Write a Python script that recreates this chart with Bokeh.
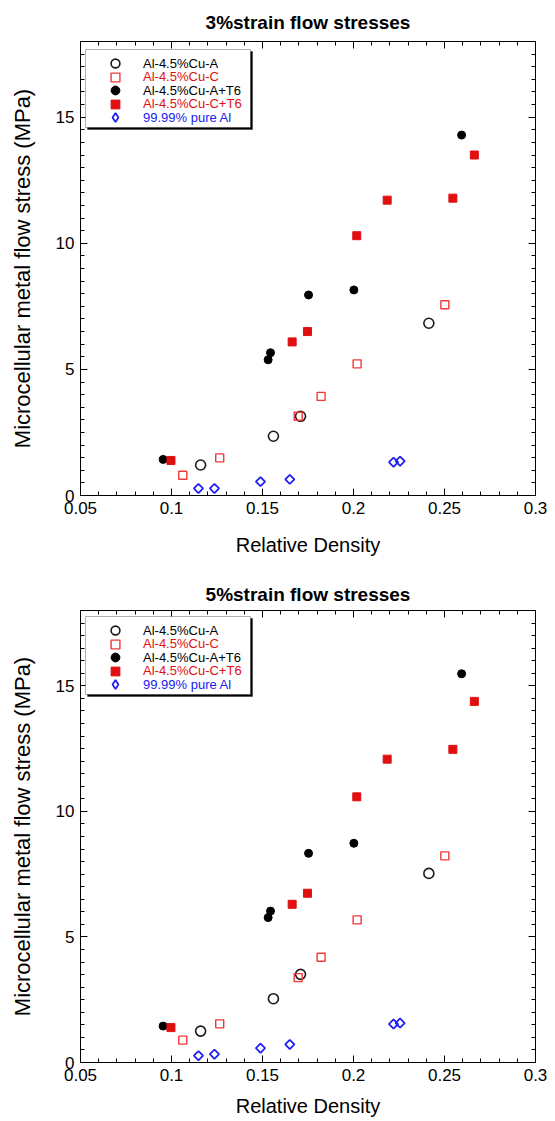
import math
from bokeh.plotting import figure
from bokeh.models import (Range1d, LinearAxis, SingleIntervalTicker, CustomJSTickFormatter,
                          Legend, LegendItem, Label, BoxAnnotation)
from bokeh.layouts import column
from bokeh.embed import file_html
from bokeh.resources import INLINE

# ---------------- data ----------------
labels = ["Al-4.5%Cu-A", "Al-4.5%Cu-C", "Al-4.5%Cu-A+T6", "Al-4.5%Cu-C+T6", "99.99% pure Al"]

dens_A = [0.116, 0.156, 0.1709, 0.2414]
dens_C = [0.1062, 0.1265, 0.1696, 0.1822, 0.202, 0.2502]
dens_AT6 = [0.0954, 0.1531, 0.1544, 0.1753, 0.2002, 0.2594]
dens_CT6 = [0.0997, 0.1663, 0.1747, 0.2018, 0.2185, 0.2546, 0.2664]
dens_Al = [0.1148, 0.1236, 0.1489, 0.165, 0.222, 0.2256]

# 3% strain flow stresses (MPa)
s3_A = [1.21, 2.35, 3.14, 6.83]
s3_C = [0.80, 1.49, 3.14, 3.93, 5.22, 7.56]
s3_AT6 = [1.43, 5.38, 5.66, 7.95, 8.15, 14.29]
s3_CT6 = [1.39, 6.09, 6.50, 10.30, 11.71, 11.79, 13.50]
s3_Al = [0.28, 0.28, 0.55, 0.64, 1.32, 1.36]

# 5% strain flow stresses (MPa)
s5_A = [1.25, 2.54, 3.51, 7.53]
s5_C = [0.89, 1.54, 3.38, 4.19, 5.68, 8.23]
s5_AT6 = [1.45, 5.77, 6.03, 8.33, 8.73, 15.48]
s5_CT6 = [1.39, 6.30, 6.74, 10.58, 12.08, 12.47, 14.38]
s5_Al = [0.27, 0.33, 0.57, 0.72, 1.53, 1.57]

x_tick_interval = 0.05
y_tick_interval = 5

FONT = "Liberation Sans"
RED = "#e01010"
RED_OPEN = "#f23838"
BLUE = "#2020f2"
TEXT_COLORS = ["black", RED, "black", RED, BLUE]

fmt = CustomJSTickFormatter(code="return String(Number(tick.toFixed(2)));")
blank_fmt = CustomJSTickFormatter(code="return '';")


def make_panel(tag, title, ys, height, top_b, bottom_b, xlab_standoff, title_standoff):
    p = figure(width=553, height=height, output_backend="svg", toolbar_location=None,
               x_range=Range1d(0.05, 0.3000001), y_range=Range1d(0, 18.00001),
               min_border_left=80, min_border_right=18,
               min_border_top=top_b, min_border_bottom=bottom_b,
               x_axis_label="Relative Density",
               y_axis_label="Microcellular metal flow stress (MPa)")
    H = height - top_b - bottom_b
    p.grid.visible = False
    p.outline_line_color = "black"
    p.outline_line_width = 1
    p.background_fill_color = "white"
    p.border_fill_color = "white"

    p.title.text = title
    p.title.align = "center"
    p.title.text_font = FONT
    p.title.text_font_size = "19px"
    p.title.text_font_style = "bold"
    p.title.text_color = "black"
    p.title.standoff = title_standoff

    xt = SingleIntervalTicker(interval=x_tick_interval, num_minor_ticks=5)
    yt = SingleIntervalTicker(interval=y_tick_interval, num_minor_ticks=10)

    for ax, t in ((p.xaxis[0], xt), (p.yaxis[0], yt)):
        ax.ticker = t
        ax.formatter = fmt
        ax.major_tick_in = 7
        ax.major_tick_out = 0
        ax.minor_tick_in = 4
        ax.minor_tick_out = 0
        ax.major_label_standoff = 6
        ax.major_label_text_font = FONT
        ax.major_label_text_font_size = "17px"
        ax.major_label_text_color = "black"
        ax.axis_label_text_font = FONT
        ax.axis_label_text_font_style = "normal"
        ax.axis_label_text_color = "black"
        ax.axis_line_color = "black"
        ax.major_tick_line_color = "black"
        ax.minor_tick_line_color = "black"
    p.xaxis[0].axis_label_text_font_size = "20px"
    p.xaxis[0].axis_label_standoff = xlab_standoff
    p.yaxis[0].axis_label_text_font_size = "22px"
    p.yaxis[0].axis_label_standoff = 18

    for loc, t in (("above", xt), ("right", yt)):
        ax = LinearAxis(ticker=t, formatter=blank_fmt, major_label_text_font_size="1px",
                        major_label_standoff=0,
                        major_tick_in=7, major_tick_out=0, minor_tick_in=4, minor_tick_out=0,
                        axis_line_color="black", major_tick_line_color="black",
                        minor_tick_line_color="black")
        p.add_layout(ax, loc)

    sA, sC, sAT6, sCT6, sAl = ys
    rA = p.scatter(dens_A, sA, marker="circle", size=10, fill_color=None,
                   line_color="#1a1a1a", line_width=1.6)
    rC = p.scatter(dens_C, sC, marker="square", size=8, fill_color=None,
                   line_color=RED_OPEN, line_width=1.4)
    rAT6 = p.scatter(dens_AT6, sAT6, marker="circle", size=8, fill_color="black",
                     line_color="black")
    rCT6 = p.scatter(dens_CT6, sCT6, marker="square", size=8, fill_color=RED,
                     line_color=RED)
    p.scatter(dens_Al, sAl, marker="square", angle=math.pi / 4, size=6.5,
              fill_color=None, line_color=BLUE, line_width=1.8)
    # legend-only glyph for the pure-Al symbol (no point drawn in the frame)
    rAl_key = p.scatter([float("nan")], [float("nan")], marker="diamond", size=9,
                        fill_color=None, line_color=BLUE, line_width=1.8)

    # legend box with drop shadow (frame-relative screen units)
    bx0, bx1, by0, by1 = 5, 170, 9, 87
    shadow = BoxAnnotation(left=bx0 + 2, right=bx1 + 2, top=H - by0 - 2, bottom=H - by1 - 2,
                           left_units="screen", right_units="screen",
                           top_units="screen", bottom_units="screen",
                           fill_color="black", fill_alpha=1, line_color="black", line_width=1)
    box = BoxAnnotation(left=bx0, right=bx1, top=H - by0, bottom=H - by1,
                        left_units="screen", right_units="screen",
                        top_units="screen", bottom_units="screen",
                        fill_color="white", fill_alpha=1, line_color="black", line_width=1)
    p.add_layout(shadow)
    p.add_layout(box)

    rends = [rA, rC, rAT6, rCT6, rAl_key]
    row0, dy = 23, 13.5
    gh = 22
    for i, (lab, r, col) in enumerate(zip(labels, rends, TEXT_COLORS)):
        yc = row0 + i * dy
        lg = Legend(items=[LegendItem(label=lab, renderers=[r])],
                    location=(24, H - yc - gh / 2),
                    padding=0, margin=0, spacing=0,
                    border_line_color=None, background_fill_alpha=0,
                    glyph_width=gh, glyph_height=gh, label_height=13,
                    label_standoff=17, label_text_font=FONT,
                    label_text_font_size="13px", label_text_color=col)
        p.add_layout(lg)

    p.add_layout(Label(x=-46, y=H + 1, x_units="screen", y_units="screen", text=tag,
                       text_font="Liberation Serif", text_font_style="bold",
                       text_font_size="21px", text_align="center", text_baseline="middle",
                       text_color="black"))
    return p


pa = make_panel("(a)", "3%strain flow stresses",
                (s3_A, s3_C, s3_AT6, s3_CT6, s3_Al), 575, 40, 80, 17, 18)
pb = make_panel("(b)", "5%strain flow stresses",
                (s5_A, s5_C, s5_AT6, s5_CT6, s5_Al), 546, 32, 59, 11, 12)

layout = column(pa, pb, spacing=0)
open("out.html", "w").write(file_html(layout, INLINE))
